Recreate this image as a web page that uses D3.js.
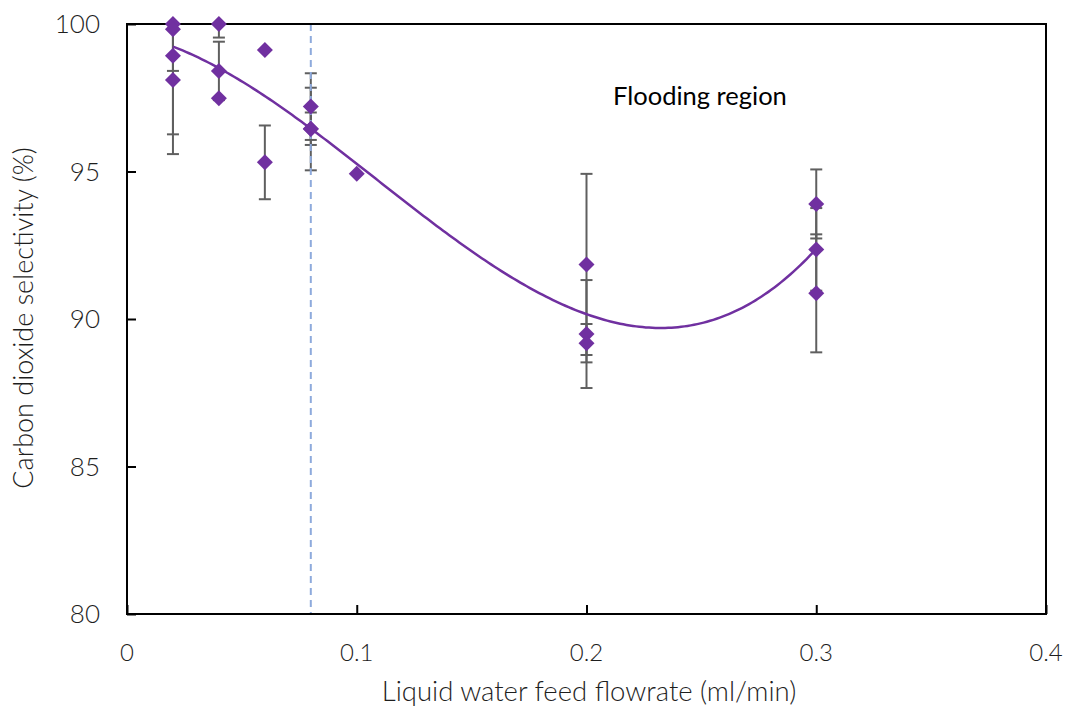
<!DOCTYPE html>
<html>
<head>
<meta charset="utf-8">
<script src="https://cdn.jsdelivr.net/npm/d3@7/dist/d3.min.js"></script>
<style>
  html, body { margin: 0; padding: 0; background: #fff; }
  svg { display: block; }
</style>
</head>
<body>
<svg id="chart" width="1065" height="706"></svg>
<script>
// Measured CO2 selectivity (%) at each liquid water feed flowrate (ml/min)
const flowrate    = [0.02, 0.02, 0.02, 0.02, 0.04, 0.04, 0.04, 0.06, 0.06, 0.08, 0.08, 0.08, 0.10, 0.20, 0.20, 0.20, 0.30, 0.30, 0.30];
const selectivity = [100.0, 99.82, 98.92, 98.10, 100.0, 98.41, 97.48, 99.12, 95.31, 97.20, 96.44, 96.45, 94.92, 91.85, 89.49, 89.18, 93.90, 92.36, 90.87];
const stdError    = [0.0, 1.41, 2.66, 2.51, 0.46, 0.99, 0.0, 0.0, 1.25, 1.13, 1.40, 0.55, 0.0, 3.07, 1.83, 0.65, 1.17, 1.40, 2.00];

const xTicks = [0, 0.1, 0.2, 0.3, 0.4];
const yTicks = [80, 85, 90, 95, 100];
const floodingOnset = 0.08;

const svg = d3.select("#chart");
const plotL = 127, plotR = 1046, plotT = 24, plotB = 614;

const x = d3.scaleLinear().domain([0, 0.4]).range([plotL, plotR]);
const y = d3.scaleLinear().domain([80, 100]).range([plotB, plotT]);

const points = flowrate.map((f, i) => ({ f, s: selectivity[i], e: stdError[i] }));

// Third-order polynomial trendline (least squares)
function polyFit(xs, ys, order) {
  const n = order + 1;
  const A = Array.from({ length: n }, () => new Array(n + 1).fill(0));
  xs.forEach((xv, k) => {
    for (let i = 0; i < n; i++) {
      for (let j = 0; j < n; j++) A[i][j] += Math.pow(xv, i + j);
      A[i][n] += ys[k] * Math.pow(xv, i);
    }
  });
  for (let c = 0; c < n; c++) {
    let p = c;
    for (let r = c + 1; r < n; r++) if (Math.abs(A[r][c]) > Math.abs(A[p][c])) p = r;
    [A[c], A[p]] = [A[p], A[c]];
    for (let r = 0; r < n; r++) {
      if (r === c) continue;
      const m = A[r][c] / A[c][c];
      for (let j = c; j <= n; j++) A[r][j] -= m * A[c][j];
    }
  }
  return A.map((row, i) => row[n] / row[i]);
}
const coef = polyFit(flowrate, selectivity, 3);
const poly = v => coef.reduce((acc, c, i) => acc + c * Math.pow(v, i), 0);
const [fMin, fMax] = d3.extent(flowrate);
const trend = d3.range(0, 201).map(i => {
  const f = fMin + (fMax - fMin) * i / 200;
  return [f, poly(f)];
});

svg.append("defs").append("clipPath").attr("id", "plotClip")
  .append("rect").attr("x", plotL).attr("y", plotT)
  .attr("width", plotR - plotL).attr("height", plotB - plotT);

// Tick marks point inward
const xAxis = d3.axisBottom(x).tickValues(xTicks).tickSizeInner(-9).tickSizeOuter(0).tickFormat("");
const yAxis = d3.axisLeft(y).tickValues(yTicks).tickSizeInner(-9).tickSizeOuter(0).tickFormat("");

const gx = svg.append("g").attr("transform", `translate(0,${plotB})`).call(xAxis);
const gy = svg.append("g").attr("transform", `translate(${plotL},0)`).call(yAxis);
[gx, gy].forEach(g => {
  g.select(".domain").remove();
  g.selectAll(".tick line").attr("stroke", "#000").attr("stroke-width", 2);
});

// Error bars
const eb = svg.append("g").attr("clip-path", "url(#plotClip)")
  .selectAll("g").data(points.filter(d => d.e > 0)).join("g")
  .attr("stroke", "#5f5f5f").attr("stroke-width", 2);
eb.append("line")
  .attr("x1", d => x(d.f)).attr("x2", d => x(d.f))
  .attr("y1", d => y(d.s + d.e)).attr("y2", d => y(d.s - d.e));
eb.append("line")
  .attr("x1", d => x(d.f) - 6).attr("x2", d => x(d.f) + 6)
  .attr("y1", d => y(d.s + d.e)).attr("y2", d => y(d.s + d.e));
eb.append("line")
  .attr("x1", d => x(d.f) - 6).attr("x2", d => x(d.f) + 6)
  .attr("y1", d => y(d.s - d.e)).attr("y2", d => y(d.s - d.e));

// Flooding onset marker
svg.append("line")
  .attr("x1", x(floodingOnset)).attr("x2", x(floodingOnset))
  .attr("y1", y(100)).attr("y2", y(80))
  .attr("stroke", "#8eaadc").attr("stroke-width", 2)
  .attr("stroke-dasharray", "7,5");

// Frame
svg.append("rect")
  .attr("x", plotL).attr("y", plotT)
  .attr("width", plotR - plotL).attr("height", plotB - plotT)
  .attr("fill", "none").attr("stroke", "#000").attr("stroke-width", 2);

// Trendline
svg.append("path")
  .datum(trend)
  .attr("fill", "none").attr("stroke", "#7030a0").attr("stroke-width", 2.5)
  .attr("d", d3.line().x(d => x(d[0])).y(d => y(d[1])));

// Data markers (diamonds)
const half = 8;
svg.append("g").selectAll("path").data(points).join("path")
  .attr("fill", "#7030a0")
  .attr("d", d => {
    const cx = x(d.f), cy = y(d.s);
    return `M${cx},${cy - half}L${cx + half},${cy}L${cx},${cy + half}L${cx - half},${cy}Z`;
  });

// Tick labels
svg.append("g").selectAll("text").data(yTicks).join("text")
  .attr("x", 100).attr("y", d => y(d)).attr("dy", "0.36em")
  .attr("text-anchor", "end")
  .style("font-family", "Lato, sans-serif").style("font-weight", 300).style("font-size", "26px")
  .attr("fill", "#1e1e1e")
  .text(d => d);

svg.append("g").selectAll("text").data(xTicks).join("text")
  .attr("x", d => x(d)).attr("y", 661)
  .attr("text-anchor", "middle")
  .style("font-family", "Lato, sans-serif").style("font-weight", 300).style("font-size", "24px")
  .attr("fill", "#1e1e1e")
  .text(d => d === 0 ? "0" : d3.format(".1f")(d));

// Axis titles
svg.append("text")
  .attr("x", 589).attr("y", 701)
  .attr("text-anchor", "middle")
  .style("font-family", "Lato, sans-serif").style("font-weight", 300).style("font-size", "27.5px")
  .attr("fill", "#1e1e1e")
  .text("Liquid water feed flowrate (ml/min)");

svg.append("text")
  .attr("transform", "translate(33,318) rotate(-90)")
  .attr("text-anchor", "middle")
  .style("font-family", "Lato, sans-serif").style("font-weight", 300).style("font-size", "27px")
  .attr("fill", "#1e1e1e")
  .text("Carbon dioxide selectivity (%)");

// Region annotation
svg.append("text")
  .attr("x", 613).attr("y", 105)
  .style("font-family", "Lato, sans-serif").style("font-size", "25.5px")
  .attr("fill", "#000")
  .text("Flooding region");
</script>
</body>
</html>
